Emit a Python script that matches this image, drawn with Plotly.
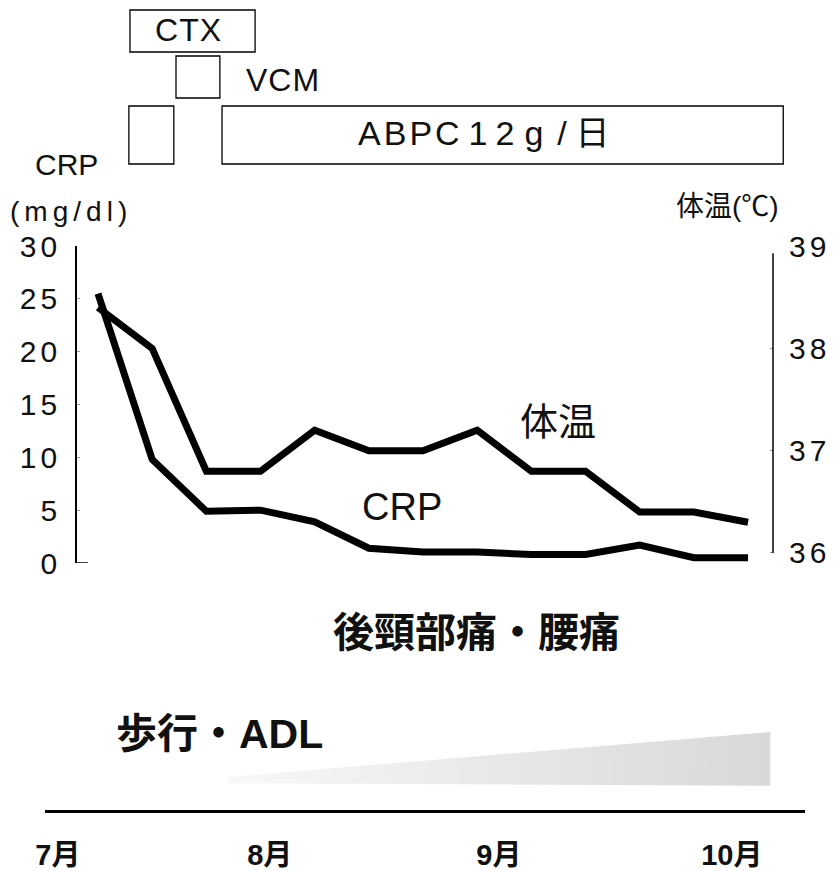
import math
import plotly.graph_objects as go

W, H = 839, 871

# ---------------- data ----------------
weeks = list(range(13))
crp = [25.5, 9.8, 4.9, 5.0, 3.9, 1.4, 1.05, 1.05, 0.8, 0.8, 1.7, 0.5, 0.5]
temp = [38.4, 38.0, 36.8, 36.8, 37.2, 37.0, 37.0, 37.2, 36.8, 36.8, 36.4, 36.4, 36.3]

crp_ticks = [0, 5, 10, 15, 20, 25, 30]
temp_ticks = [36, 37, 38, 39]

month_pos = [-0.74, 3.17, 7.40, 11.70]
month_labels = ["7月", "8月", "9月", "10月"]

# treatment periods (in week units)
treat_start = [0.59, 1.44, 0.57, 2.29]
treat_end = [2.90, 2.25, 1.40, 12.65]
treat_row = [0, 1, 2, 2]

# walking / ADL improvement wedge
adl_x = [2.40, 12.41, 12.41, 2.40]
adl_y = [0.30, 0.71, 0.22, 0.245]


def px(x):
    return x / W


def py(y):
    return 1 - y / H


def gap(g):
    # thin spaces sized to give a gap of about g pixels, kept small so the line box does not grow
    n = max(1, math.ceil(g / 5))
    return ('<span style="font-size:%dpx">\u2009</span>' % round(g / n * 5)) * n


def spaced(s, g):
    return gap(g).join(s)


fig = go.Figure()

fig.add_trace(go.Scatter(x=weeks, y=temp, mode="lines", yaxis="y2",
                         line=dict(color="black", width=7), showlegend=False))
fig.add_trace(go.Scatter(x=weeks, y=crp, mode="lines",
                         line=dict(color="black", width=7), showlegend=False))

fig.add_trace(go.Scatter(
    x=adl_x + [adl_x[0]], y=adl_y + [adl_y[0]], xaxis="x2", yaxis="y3",
    mode="lines", line=dict(width=0), fill="toself",
    fillgradient=dict(type="horizontal",
                      colorscale=[[0, "rgb(248,248,248)"], [1, "rgb(216,216,216)"]]),
    showlegend=False, hoverinfo="skip"))

font_latin = "Liberation Sans, Arial, sans-serif"
font_cjk = "Liberation Sans, Noto Sans CJK JP, sans-serif"

fig.update_layout(
    width=W, height=H, margin=dict(l=0, r=0, t=0, b=0, autoexpand=False),
    paper_bgcolor="white", plot_bgcolor="rgba(0,0,0,0)",
    showlegend=False,
    xaxis=dict(domain=[0, 1], range=[-1.809, 13.679], visible=False, automargin=False),
    yaxis=dict(domain=[py(563), py(246)], range=[0, 30],
               anchor="free", position=px(76), automargin=False,
               showline=True, linecolor="black", linewidth=1.5,
               showgrid=False, zeroline=False,
               ticks="inside", ticklen=3, tickwidth=1, tickcolor="#999",
               tickvals=crp_ticks, ticktext=[spaced(str(v), 4) for v in crp_ticks],
               tickfont=dict(family=font_latin, size=30, color="#111"),
               ticklabelstandoff=12),
    yaxis2=dict(domain=[py(563), py(246)], range=[35.902, 39.002],
                overlaying="y", side="right", anchor="free", position=px(773),
                automargin=False,
                showline=False, showgrid=False, zeroline=False,
                ticks="inside", ticklen=3, tickwidth=1, tickcolor="#999",
                tickvals=temp_ticks, ticktext=[spaced(str(v), 4) for v in temp_ticks],
                tickfont=dict(family=font_latin, size=30, color="#111"),
                ticklabelstandoff=15),
    xaxis2=dict(domain=[px(45), px(805)], range=[-0.978, 13.052], anchor="y3",
                automargin=False,
                showline=True, linecolor="black", linewidth=3,
                showgrid=False, zeroline=False, ticks="",
                tickvals=month_pos, ticktext=["<b>" + m + "</b>" for m in month_labels],
                tickfont=dict(family=font_cjk, size=29, color="#111"),
                ticklabelstandoff=17),
    yaxis3=dict(domain=[py(810), py(700)], range=[0, 1], visible=False, automargin=False),
)

shapes = []
# right axis line
shapes.append(dict(type="line", xref="paper", yref="y2", x0=px(773), x1=px(773),
                   y0=36, y1=38.93, line=dict(color="black", width=1.5)))
# left axis foot
shapes.append(dict(type="line", xref="paper", yref="y", x0=px(76), x1=px(88),
                   y0=0, y1=0, line=dict(color="black", width=1.5)))
# treatment boxes
row_y = [(10, 52), (56, 98), (106, 164)]
for s, e, r in zip(treat_start, treat_end, treat_row):
    top, bot = row_y[r]
    shapes.append(dict(type="rect", xref="x", yref="paper", x0=s, x1=e,
                       y0=py(bot), y1=py(top), line=dict(color="black", width=1.3),
                       fillcolor="rgba(0,0,0,0)"))
fig.update_layout(shapes=shapes)


def ann(text, x, y, size, family=font_latin, xanchor="center"):
    return dict(text=text, x=px(x), y=py(y), xref="paper", yref="paper",
                showarrow=False, xanchor=xanchor, yanchor="middle",
                font=dict(family=family, size=size, color="#111"))


abpc_text = (spaced("ABPC", 3) + gap(9) + "1" + gap(8) + "2" + gap(10)
             + "g" + gap(14) + "/" + gap(9) + "日")

annotations = [
    ann(spaced("CTX", 1), 188, 30, 32),
    ann(spaced("VCM", 1), 282, 80, 32),
    ann(abpc_text, 483, 133, 34, font_cjk),
    ann("CRP", 66, 164, 30),
    ann(spaced("(mg/dl)", 5), 68, 212, 28),
    ann("体温(℃)", 727, 207, 28, font_cjk),
    ann("体温", 558, 422, 38, font_cjk),
    ann("CRP", 402, 507, 38),
    ann("<b>後頸部痛・腰痛</b>", 476, 633, 41, font_cjk),
    ann("<b>歩行・ADL</b>", 219, 734, 41, font_cjk),
]
fig.update_layout(annotations=annotations)

fig.write_html("out.html", config={"displayModeBar": False},
               post_script="document.body.style.margin='0px';")
